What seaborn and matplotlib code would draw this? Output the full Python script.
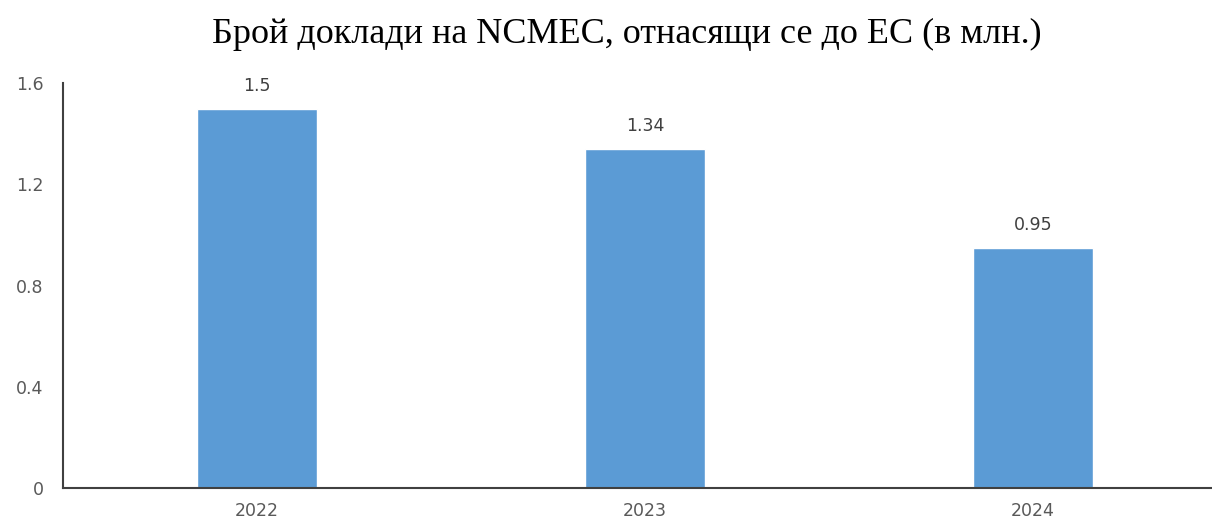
import matplotlib.pyplot as plt
import seaborn as sns

years = ['2022', '2023', '2024']
reports = [1.5, 1.34, 0.95]
value_labels = ['1.5', '1.34', '0.95']
yticks = [0, 0.4, 0.8, 1.2, 1.6]
ytick_labels = ['0', '0.4', '0.8', '1.2', '1.6']

sns.set_style('white')
plt.rcParams['font.family'] = ['DejaVu Sans']

fig = plt.figure(figsize=(12.12, 5.25), dpi=100)
ax = fig.add_axes([0.052, 0.0705, 0.948, 0.771])

sns.barplot(x=years, y=reports, color='#5B9BD5', width=0.31, saturation=1, ax=ax)

for i, (v, lab) in enumerate(zip(reports, value_labels)):
    ax.annotate(lab, (i, v), xytext=(0, 10), textcoords='offset points',
                ha='center', va='bottom', fontsize=12.5, color='#404040')

ax.set_xlim(-0.5, (1212 - 63) / 388 - 0.5)
ax.set_ylim(0, 1.6)
ax.set_yticks(yticks)
ax.set_yticklabels(ytick_labels)
ax.tick_params(axis='both', length=0, labelsize=12.5, labelcolor='#595959')
ax.tick_params(axis='y', pad=14)
ax.tick_params(axis='x', pad=10)

for s in ['top', 'right']:
    ax.spines[s].set_visible(False)
ax.spines['left'].set_color('#404040')
ax.spines['left'].set_linewidth(1.5)
ax.spines['bottom'].set_color('#404040')
ax.spines['bottom'].set_linewidth(1.5)

fig.text(0.517, 0.935, 'Брой доклади на NCMEC, отнасящи се до ЕС (в млн.)',
         ha='center', va='center', fontsize=26, family='Liberation Serif', color='black')

fig.savefig('out.png', dpi=100)
